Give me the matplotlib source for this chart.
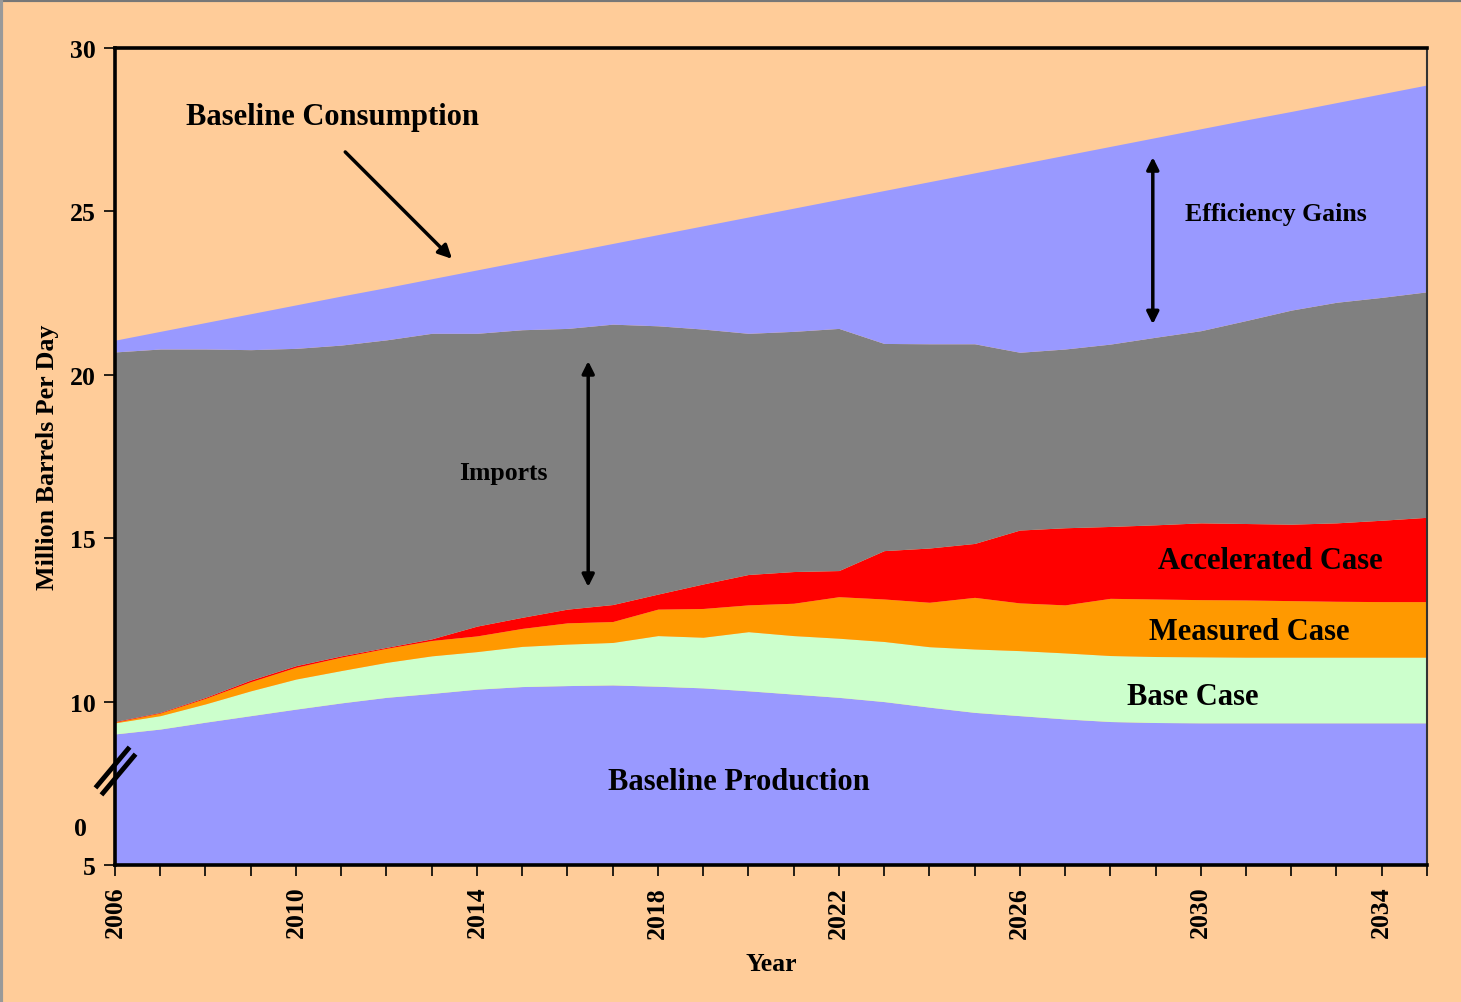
import numpy as np
import matplotlib
matplotlib.use("Agg")
import matplotlib.pyplot as plt
from matplotlib.lines import Line2D

plt.rcParams['font.family'] = ['Liberation Serif', 'DejaVu Serif']
plt.rcParams['font.weight'] = 'bold'

years = np.arange(2006, 2036)

# tops of each stacked layer (million barrels per day)
production = [9.01, 9.16, 9.37, 9.57, 9.77, 9.96, 10.13, 10.25, 10.38, 10.46,
              10.49, 10.51, 10.47, 10.42, 10.33, 10.23, 10.13, 10.00, 9.83, 9.67,
              9.57, 9.47, 9.39, 9.36, 9.35, 9.35, 9.35, 9.35, 9.35, 9.35]
base_case = [9.35, 9.57, 9.93, 10.33, 10.69, 10.95, 11.20, 11.40, 11.53, 11.69,
             11.76, 11.81, 12.02, 11.97, 12.14, 12.02, 11.94, 11.84, 11.68, 11.61,
             11.56, 11.49, 11.41, 11.38, 11.37, 11.36, 11.36, 11.36, 11.36, 11.36]
measured = [9.37, 9.65, 10.10, 10.61, 11.05, 11.36, 11.63, 11.87, 12.01, 12.24,
            12.41, 12.45, 12.83, 12.85, 12.96, 13.01, 13.21, 13.14, 13.04, 13.19,
            13.02, 12.96, 13.16, 13.14, 13.12, 13.11, 13.09, 13.07, 13.06, 13.06]
accelerated = [9.39, 9.67, 10.13, 10.66, 11.10, 11.40, 11.66, 11.92, 12.31, 12.58,
               12.83, 12.97, 13.29, 13.60, 13.89, 13.98, 14.01, 14.62, 14.70, 14.84,
               15.25, 15.32, 15.36, 15.41, 15.47, 15.45, 15.43, 15.47, 15.55, 15.64]
imports_top = [20.70, 20.79, 20.79, 20.77, 20.81, 20.91, 21.07, 21.27, 21.27, 21.38,
               21.42, 21.55, 21.50, 21.40, 21.27, 21.33, 21.42, 20.96, 20.95, 20.95,
               20.69, 20.79, 20.94, 21.15, 21.35, 21.66, 21.98, 22.22, 22.37, 22.54]
consumption = [21.06, 21.33, 21.60, 21.87, 22.14, 22.41, 22.67, 22.94, 23.21, 23.48,
               23.75, 24.02, 24.29, 24.56, 24.83, 25.10, 25.37, 25.64, 25.91, 26.18,
               26.45, 26.72, 26.99, 27.26, 27.53, 27.80, 28.06, 28.33, 28.60, 28.87]

bg = '#FFCC99'
purple = '#9999FF'

fig = plt.figure(figsize=(14.61, 10.03), dpi=100, facecolor=bg)
ax = fig.add_axes([0.0787, 0.1366, 0.898, 0.8145], facecolor=bg)

ymin = 5
ax.fill_between(years, ymin, production, color=purple, lw=0)
ax.fill_between(years, production, base_case, color='#CCFFCC', lw=0)
ax.fill_between(years, base_case, measured, color='#FF9900', lw=0)
ax.fill_between(years, measured, accelerated, color='#FF0000', lw=0)
ax.fill_between(years, accelerated, imports_top, color='#808080', lw=0)
ax.fill_between(years, imports_top, consumption, color=purple, lw=0)

ax.set_xlim(2006, 2035)
ax.set_ylim(5, 30)
ax.set_yticks([5, 10, 15, 20, 25, 30])
ax.set_xticks(np.arange(2006, 2035, 4))
ax.set_xticks(np.arange(2006, 2036, 1), minor=True)
ax.tick_params(axis='both', direction='out', length=8, width=1.2, labelsize=18.5)
ax.tick_params(axis='x', which='minor', direction='out', length=8, width=1.2)
ax.tick_params(axis='x', labelrotation=90, pad=7)
ax.tick_params(axis='y', pad=6)
for lab in ax.get_xticklabels() + ax.get_yticklabels():
    lab.set_fontweight('bold')

for side in ['left', 'top', 'bottom']:
    ax.spines[side].set_linewidth(2.6)
ax.spines['right'].set_linewidth(1.5)
ax.spines['right'].set_color('#333333')

ax.set_xlabel('Year', fontsize=18.5, fontweight='bold', labelpad=10)
ax.set_ylabel('Million Barrels Per Day', fontsize=18.7, fontweight='bold', labelpad=8)

# area labels
big, small = 22, 18.5
ax.text(2010.8, 27.92, 'Baseline Consumption', fontsize=big, fontweight='bold', ha='center', va='center')
ax.text(2031.66, 24.95, 'Efficiency Gains', fontsize=small, fontweight='bold', ha='center', va='center')
ax.text(2014.58, 17.0, 'Imports', fontsize=small, fontweight='bold', ha='center', va='center')
ax.text(2031.53, 14.33, 'Accelerated Case', fontsize=big, fontweight='bold', ha='center', va='center')
ax.text(2031.07, 12.16, 'Measured Case', fontsize=big, fontweight='bold', ha='center', va='center')
ax.text(2029.83, 10.17, 'Base Case', fontsize=big, fontweight='bold', ha='center', va='center')
ax.text(2019.8, 7.54, 'Baseline Production', fontsize=big, fontweight='bold', ha='center', va='center')

# arrows
ax.annotate('', xy=(2013.45, 23.55), xytext=(2011.09, 26.82),
            arrowprops=dict(arrowstyle='-|>', lw=2.5, color='black', mutation_scale=20,
                            shrinkA=0, shrinkB=0))
ax.annotate('', xy=(2028.94, 26.66), xytext=(2028.94, 21.55),
            arrowprops=dict(arrowstyle='<|-|>', lw=2.5, color='black', mutation_scale=18,
                            shrinkA=0, shrinkB=0))
ax.annotate('', xy=(2016.46, 20.42), xytext=(2016.46, 13.51),
            arrowprops=dict(arrowstyle='<|-|>', lw=2.5, color='black', mutation_scale=18,
                            shrinkA=0, shrinkB=0))

# axis break mark and the stray "0"
W, H = 1461.0, 1003.0
for (x0, y0, x1, y1) in [(97, 787, 128, 750), (103, 794, 134, 757)]:
    fig.add_artist(Line2D([x0 / W, x1 / W], [1 - y0 / H, 1 - y1 / H], color='black', lw=3.5,
                          transform=fig.transFigure))
fig.text(80 / W, 1 - 829 / H, '0', fontsize=18.5, fontweight='bold', ha='center', va='center')

# thin grey frame at top/left of the screenshot
fig.add_artist(Line2D([0, 1], [0.999, 0.999], color='#777777', lw=3, transform=fig.transFigure))
fig.add_artist(Line2D([0.001, 0.001], [0, 1], color='#999999', lw=3, transform=fig.transFigure))

fig.savefig('out.png', dpi=100, facecolor=bg)
